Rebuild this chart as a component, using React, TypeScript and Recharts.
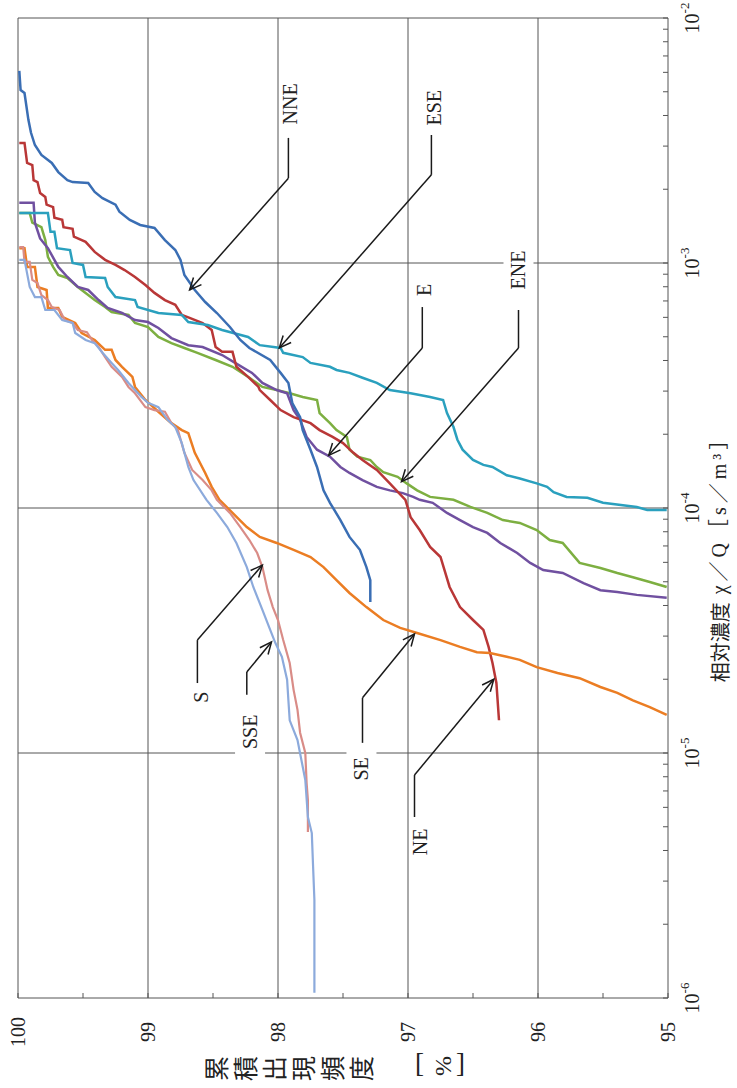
import React from 'react';
import { LineChart, Line, XAxis, YAxis, ReferenceLine, ReferenceDot } from 'recharts';

// ---- axis values ----
const FREQ_TICKS = [100, 99.5, 99, 98.5, 98, 97.5, 97, 96.5, 96, 95.5, 95];
const FREQ_LABELS = [100, 99, 98, 97, 96, 95];
const FREQ_GRID = [99, 98, 97, 96];
const CONC_DECADES = [1e-6, 1e-5, 1e-4, 1e-3, 1e-2];
const CONC_MINOR_MULT = [2, 3, 4, 5, 6, 7, 8, 9];
const CONC_GRID = [1e-5, 1e-4, 1e-3];

// ---- series: [cumulative frequency %, chi/Q s/m3] ----
const NNE_DATA: [number, number][] = [
  [99.99, 6.08e-3], [99.98, 5.08e-3], [99.95, 4.94e-3], [99.92, 3.84e-3], [99.9, 3.4e-3], [99.87, 3.03e-3],
  [99.82, 2.76e-3], [99.74, 2.56e-3], [99.69, 2.35e-3], [99.62, 2.18e-3], [99.58, 2.14e-3], [99.46, 2.12e-3],
  [99.41, 1.95e-3], [99.35, 1.84e-3], [99.25, 1.73e-3], [99.22, 1.62e-3], [99.14, 1.5e-3], [99.06, 1.43e-3],
  [98.95, 1.39e-3], [98.87, 1.24e-3], [98.79, 1.13e-3], [98.75, 1.03e-3], [98.72, 8.93e-4], [98.64, 7.76e-4],
  [98.56, 6.93e-4], [98.47, 6.25e-4], [98.37, 5.48e-4], [98.29, 4.85e-4], [98.22, 4.5e-4], [98.06, 4.02e-4],
  [97.98, 3.56e-4], [97.92, 3.24e-4], [97.89, 2.68e-4], [97.83, 2.35e-4], [97.81, 2.08e-4], [97.75, 1.73e-4],
  [97.7, 1.47e-4], [97.65, 1.18e-4], [97.6, 1.05e-4], [97.52, 8.93e-5], [97.45, 7.62e-5], [97.37, 6.75e-5],
  [97.32, 5.74e-5], [97.29, 5.08e-5], [97.29, 4.13e-5],
];
const ESE_DATA: [number, number][] = [
  [99.99, 1.6e-3], [99.77, 1.6e-3], [99.75, 1.34e-3], [99.72, 1.34e-3], [99.7, 1.15e-3], [99.6, 1.13e-3],
  [99.58, 1.0e-3], [99.5, 9.82e-4], [99.48, 8.77e-4], [99.33, 8.69e-4], [99.31, 7.98e-4], [99.25, 7.26e-4],
  [99.1, 7.06e-4], [99.08, 6.61e-4], [98.92, 6.25e-4], [98.74, 6.14e-4], [98.69, 5.74e-4], [98.54, 5.58e-4],
  [98.43, 5.33e-4], [98.23, 4.99e-4], [98.14, 4.62e-4], [97.98, 4.5e-4], [97.96, 4.3e-4], [97.81, 4.13e-4],
  [97.75, 3.91e-4], [97.6, 3.77e-4], [97.55, 3.66e-4], [97.45, 3.56e-4], [97.35, 3.4e-4], [97.24, 3.24e-4],
  [97.14, 3.03e-4], [96.98, 2.94e-4], [96.83, 2.84e-4], [96.73, 2.76e-4], [96.7, 2.44e-4], [96.65, 2.14e-4],
  [96.62, 1.9e-4], [96.58, 1.73e-4], [96.5, 1.57e-4], [96.42, 1.5e-4], [96.35, 1.47e-4], [96.24, 1.36e-4],
  [96.14, 1.32e-4], [96.01, 1.26e-4], [95.93, 1.22e-4], [95.88, 1.16e-4], [95.78, 1.11e-4], [95.62, 1.1e-4],
  [95.5, 1.05e-4], [95.24, 1.01e-4], [95.16, 9.82e-5], [95.01, 9.82e-5],
];
const E_DATA: [number, number][] = [
  [99.99, 1.76e-3], [99.88, 1.76e-3], [99.87, 1.46e-3], [99.83, 1.26e-3], [99.77, 1.15e-3], [99.69, 9.64e-4],
  [99.62, 8.77e-4], [99.54, 7.98e-4], [99.46, 7.76e-4], [99.38, 7.06e-4], [99.31, 6.55e-4], [99.2, 6.25e-4],
  [99.1, 5.85e-4], [99.0, 5.74e-4], [98.92, 5.43e-4], [98.82, 4.94e-4], [98.69, 4.62e-4], [98.58, 4.54e-4],
  [98.43, 4.21e-4], [98.33, 3.91e-4], [98.2, 3.56e-4], [98.12, 3.24e-4], [98.01, 3.03e-4], [97.93, 2.94e-4],
  [97.88, 2.51e-4], [97.83, 2.29e-4], [97.78, 1.95e-4], [97.7, 1.73e-4], [97.6, 1.62e-4], [97.52, 1.47e-4],
  [97.45, 1.39e-4], [97.35, 1.3e-4], [97.24, 1.22e-4], [97.14, 1.18e-4], [97.04, 1.15e-4], [96.96, 1.11e-4],
  [96.91, 1.08e-4], [96.81, 1.05e-4], [96.7, 9.55e-5], [96.6, 8.93e-5], [96.5, 8.36e-5], [96.39, 7.91e-5],
  [96.29, 7.2e-5], [96.16, 6.55e-5], [96.06, 5.97e-5], [95.96, 5.58e-5], [95.81, 5.43e-5], [95.65, 4.94e-5],
  [95.52, 4.62e-5], [95.39, 4.54e-5], [95.24, 4.42e-5], [95.01, 4.3e-5],
];
const ENE_DATA: [number, number][] = [
  [99.99, 1.6e-3], [99.91, 1.6e-3], [99.89, 1.46e-3], [99.82, 1.4e-3], [99.79, 1.24e-3], [99.77, 1.06e-3],
  [99.73, 9.64e-4], [99.69, 8.93e-4], [99.62, 8.69e-4], [99.54, 7.98e-4], [99.48, 7.55e-4], [99.41, 7.06e-4],
  [99.33, 6.61e-4], [99.28, 6.31e-4], [99.15, 6.14e-4], [99.1, 5.69e-4], [99.0, 5.48e-4], [98.92, 4.99e-4],
  [98.82, 4.71e-4], [98.72, 4.5e-4], [98.62, 4.3e-4], [98.48, 4.02e-4], [98.35, 3.77e-4], [98.22, 3.4e-4],
  [98.12, 3.12e-4], [98.01, 3.03e-4], [97.91, 2.94e-4], [97.81, 2.84e-4], [97.7, 2.76e-4], [97.68, 2.44e-4],
  [97.6, 2.22e-4], [97.55, 2.08e-4], [97.47, 1.95e-4], [97.45, 1.73e-4], [97.39, 1.62e-4], [97.29, 1.57e-4],
  [97.24, 1.47e-4], [97.19, 1.4e-4], [97.08, 1.34e-4], [97.01, 1.26e-4], [96.93, 1.18e-4], [96.83, 1.11e-4],
  [96.65, 1.08e-4], [96.52, 1.01e-4], [96.39, 9.55e-5], [96.27, 8.93e-5], [96.14, 8.69e-5], [96.01, 8.13e-5],
  [95.91, 7.4e-5], [95.81, 7.2e-5], [95.68, 5.97e-5], [95.52, 5.69e-5], [95.39, 5.43e-5], [95.27, 5.22e-5],
  [95.14, 4.99e-5], [95.01, 4.76e-5],
];
const NE_DATA: [number, number][] = [
  [99.99, 3.09e-3], [99.95, 3.09e-3], [99.93, 2.56e-3], [99.89, 2.51e-3], [99.88, 2.18e-3], [99.85, 2.14e-3],
  [99.83, 1.93e-3], [99.79, 1.86e-3], [99.78, 1.73e-3], [99.73, 1.69e-3], [99.72, 1.53e-3], [99.66, 1.5e-3],
  [99.65, 1.4e-3], [99.58, 1.38e-3], [99.57, 1.28e-3], [99.48, 1.22e-3], [99.41, 1.11e-3], [99.33, 1.03e-3],
  [99.25, 9.82e-4], [99.18, 9.36e-4], [99.1, 8.77e-4], [99.02, 8.13e-4], [98.95, 7.55e-4], [98.87, 7.06e-4],
  [98.79, 6.75e-4], [98.74, 6.14e-4], [98.68, 5.97e-4], [98.58, 5.69e-4], [98.51, 5.33e-4], [98.48, 4.54e-4],
  [98.43, 4.34e-4], [98.35, 4.34e-4], [98.32, 3.77e-4], [98.23, 3.43e-4], [98.15, 3.12e-4], [98.14, 3.03e-4],
  [98.06, 2.76e-4], [97.98, 2.51e-4], [97.88, 2.35e-4], [97.75, 2.22e-4], [97.68, 2.08e-4], [97.58, 1.95e-4],
  [97.5, 1.84e-4], [97.42, 1.68e-4], [97.35, 1.57e-4], [97.24, 1.43e-4], [97.14, 1.26e-4], [97.02, 1.08e-4],
  [96.98, 9.18e-5], [96.91, 8.13e-5], [96.83, 6.93e-5], [96.75, 6.31e-5], [96.68, 4.76e-5], [96.6, 3.94e-5],
  [96.5, 3.49e-5], [96.42, 3.18e-5], [96.38, 2.71e-5], [96.35, 2.33e-5], [96.32, 1.93e-5], [96.3, 1.36e-5],
];
const SE_DATA: [number, number][] = [
  [99.99, 1.15e-3], [99.95, 1.15e-3], [99.93, 9.64e-4], [99.87, 9.64e-4], [99.85, 7.98e-4], [99.78, 7.76e-4],
  [99.77, 6.55e-4], [99.69, 6.55e-4], [99.66, 6.03e-4], [99.56, 5.69e-4], [99.51, 5.18e-4], [99.41, 4.85e-4],
  [99.33, 4.42e-4], [99.28, 4.42e-4], [99.25, 4.02e-4], [99.2, 3.77e-4], [99.12, 3.43e-4], [99.1, 3.12e-4],
  [99.02, 2.76e-4], [98.92, 2.47e-4], [98.82, 2.22e-4], [98.74, 2.08e-4], [98.69, 2.02e-4], [98.64, 1.68e-4],
  [98.56, 1.39e-4], [98.51, 1.22e-4], [98.45, 1.08e-4], [98.35, 9.55e-5], [98.24, 8.36e-5], [98.14, 7.62e-5],
  [98.01, 7.2e-5], [97.88, 6.75e-5], [97.75, 6.31e-5], [97.65, 5.74e-5], [97.55, 5.08e-5], [97.45, 4.5e-5],
  [97.32, 3.94e-5], [97.19, 3.49e-5], [97.06, 3.24e-5], [96.93, 3.09e-5], [96.75, 2.89e-5], [96.6, 2.71e-5],
  [96.47, 2.58e-5], [96.37, 2.56e-5], [96.24, 2.47e-5], [96.14, 2.4e-5], [96.01, 2.24e-5], [95.85, 2.12e-5],
  [95.68, 2.02e-5], [95.52, 1.86e-5], [95.39, 1.76e-5], [95.27, 1.64e-5], [95.14, 1.54e-5], [95.01, 1.43e-5],
];
const S_DATA: [number, number][] = [
  [99.99, 1.16e-3], [99.96, 1.16e-3], [99.95, 1.01e-3], [99.91, 1.01e-3], [99.89, 8.53e-4], [99.85, 8.28e-4],
  [99.82, 7.4e-4], [99.77, 7.06e-4], [99.74, 6.61e-4], [99.68, 6.43e-4], [99.64, 5.85e-4], [99.58, 5.69e-4],
  [99.54, 5.33e-4], [99.47, 5.22e-4], [99.43, 4.85e-4], [99.38, 4.54e-4], [99.33, 4.13e-4], [99.28, 3.77e-4],
  [99.2, 3.43e-4], [99.15, 3.12e-4], [99.1, 2.94e-4], [99.02, 2.58e-4], [98.95, 2.51e-4], [98.87, 2.47e-4],
  [98.82, 2.22e-4], [98.77, 2.08e-4], [98.72, 1.68e-4], [98.66, 1.43e-4], [98.58, 1.3e-4], [98.51, 1.18e-4],
  [98.47, 1.08e-4], [98.37, 9.55e-5], [98.29, 8.36e-5], [98.22, 7.4e-5], [98.16, 6.55e-5], [98.12, 5.74e-5],
  [98.08, 4.62e-5], [98.04, 3.94e-5], [98.0, 3.49e-5], [97.96, 2.89e-5], [97.91, 2.33e-5], [97.88, 1.81e-5],
  [97.85, 1.5e-5], [97.83, 1.21e-5], [97.79, 1.0e-5], [97.78, 7.55e-6], [97.77, 6.43e-6], [97.77, 4.76e-6],
];
const SSE_DATA: [number, number][] = [
  [99.99, 1.03e-3], [99.95, 1.03e-3], [99.91, 7.98e-4], [99.87, 7.26e-4], [99.82, 7.26e-4], [99.79, 6.43e-4],
  [99.72, 6.43e-4], [99.66, 5.85e-4], [99.58, 5.69e-4], [99.56, 5.18e-4], [99.48, 4.85e-4], [99.41, 4.71e-4],
  [99.35, 4.3e-4], [99.28, 3.91e-4], [99.23, 3.66e-4], [99.15, 3.24e-4], [99.05, 2.84e-4], [99.0, 2.69e-4],
  [98.92, 2.58e-4], [98.85, 2.29e-4], [98.79, 2.14e-4], [98.74, 1.84e-4], [98.69, 1.47e-4], [98.65, 1.3e-4],
  [98.55, 1.08e-4], [98.47, 9.55e-5], [98.39, 8.36e-5], [98.32, 7.2e-5], [98.24, 5.74e-5], [98.19, 4.76e-5],
  [98.12, 3.84e-5], [98.06, 3.18e-5], [98.02, 2.81e-5], [97.97, 2.47e-5], [97.93, 1.99e-5], [97.92, 1.64e-5],
  [97.91, 1.36e-5], [97.85, 1.13e-5], [97.82, 9.36e-6], [97.79, 7.76e-6], [97.77, 5.48e-6], [97.74, 4.71e-6],
  [97.73, 3.43e-6], [97.72, 2.51e-6], [97.72, 1.05e-6],
];

const SERIES = [
  { name: 'ENE', color: '#7DAF41', width: 2.5, data: ENE_DATA },
  { name: 'E', color: '#7050A0', width: 2.5, data: E_DATA },
  { name: 'NE', color: '#B93737', width: 2.5, data: NE_DATA },
  { name: 'ESE', color: '#2AA0BE', width: 2.5, data: ESE_DATA },
  { name: 'NNE', color: '#3A6EB4', width: 2.5, data: NNE_DATA },
  { name: 'SE', color: '#EB7D23', width: 2.5, data: SE_DATA },
  { name: 'S', color: '#D98C87', width: 2.2, data: S_DATA },
  { name: 'SSE', color: '#8CAADC', width: 2.2, data: SSE_DATA },
];

// ---- annotation callouts (data coordinates) ----
const ANNOTATIONS = [
  { name: 'NNE', labelF: 97.91, labelC: 4.46e-3, legF: 97.92, legStartC: 3.24e-3, bendC: 2.22e-3, tipF: 98.68, tipC: 7.76e-4, bg: false },
  { name: 'ESE', labelF: 96.8, labelC: 4.3e-3, legF: 96.82, legStartC: 3.33e-3, bendC: 2.29e-3, tipF: 97.99, tipC: 4.5e-4, bg: false },
  { name: 'E', labelF: 96.88, labelC: 7.76e-4, legF: 96.89, legStartC: 6.61e-4, bendC: 4.5e-4, tipF: 97.61, tipC: 1.64e-4, bg: false },
  { name: 'ENE', labelF: 96.15, labelC: 9.36e-4, legF: 96.15, legStartC: 6.43e-4, bendC: 4.5e-4, tipF: 97.05, tipC: 1.28e-4, bg: true },
  { name: 'S', labelF: 98.59, labelC: 1.69e-5, legF: 98.62, legStartC: 1.93e-5, bendC: 2.89e-5, tipF: 98.12, tipC: 5.85e-5, bg: false },
  { name: 'SSE', labelF: 98.215, labelC: 1.22e-5, legF: 98.24, legStartC: 1.73e-5, bendC: 2.14e-5, tipF: 98.05, tipC: 2.84e-5, bg: true },
  { name: 'SE', labelF: 97.358, labelC: 8.61e-6, legF: 97.35, legStartC: 1.1e-5, bendC: 1.68e-5, tipF: 96.95, tipC: 3.06e-5, bg: true },
  { name: 'NE', labelF: 96.91, labelC: 4.34e-6, legF: 96.95, legStartC: 5.48e-6, bendC: 8.13e-6, tipF: 96.34, tipC: 2.0e-5, bg: false },
];

const FONT = "'Liberation Serif', 'Noto Sans CJK JP', serif";
const CJK = "'Noto Sans CJK JP', sans-serif";
const GRID = '#555555';
const INK = '#1a1a1a';

const CONC_TICKS = CONC_DECADES.flatMap((d, i) =>
  i < CONC_DECADES.length - 1 ? [d, ...CONC_MINOR_MULT.map((m) => m * d)] : [d]
);

const toPoints = (arr: [number, number][]) => arr.map(([f, c]) => ({ f, c }));

function FreqTick(props: any) {
  const { x, y, payload } = props;
  const v = payload.value;
  if (!FREQ_LABELS.includes(v)) return <g />;
  const cy = y + 39;
  return (
    <text x={x} y={cy} transform={`rotate(-90 ${x} ${cy})`} textAnchor="middle" dominantBaseline="central"
      fontFamily={FONT} fontSize={20} fill="#222">{v}</text>
  );
}

function ConcTick(props: any) {
  const { x, y, payload } = props;
  const v = payload.value;
  const idx = CONC_DECADES.findIndex((d) => Math.abs(d - v) / d < 1e-6);
  if (idx < 0) return <g />;
  const exp = Math.round(Math.log10(v));
  const cx = x + 29;
  return (
    <text x={cx} y={y} transform={`rotate(-90 ${cx} ${y})`} textAnchor="middle" dominantBaseline="central"
      fontFamily={FONT} fontSize={20} fill="#222">
      10<tspan dy={-8} fontSize={13}>{'-' + Math.abs(exp)}</tspan>
    </text>
  );
}

function XTitle(props: any) {
  const vb = props.viewBox || { x: 18, y: 998 };
  const ox = vb.x;
  const oy = vb.y;
  return (
    <g>
      <text x={ox + 208} y={oy + 83} rotate="-90" letterSpacing={4} fontFamily={CJK} fontSize={25} fill="#222">
        累積出現頻度
      </text>
      <text x={ox + 397} y={oy + 74} fontFamily={FONT} fontSize={27} fill="#222">[</text>
      <text x={ox + 424.5} y={oy + 68} transform={`rotate(-90 ${ox + 424.5} ${oy + 68})`} textAnchor="middle"
        dominantBaseline="central" fontFamily={FONT} fontSize={24} fill="#222">%</text>
      <text x={ox + 438} y={oy + 74} fontFamily={FONT} fontSize={27} fill="#222">]</text>
    </g>
  );
}

function YTitle(props: any) {
  const vb = props.viewBox || { x: 668, y: 18, height: 980 };
  const cx = vb.x + 51;
  const cy = 554;
  return (
    <text x={cx} y={cy} transform={`rotate(-90 ${cx} ${cy})`} textAnchor="middle" dominantBaseline="central"
      fontFamily={FONT} fontSize={20} fill="#222">
      <tspan fontFamily={CJK}>相対濃度</tspan>
      <tspan dx={8} letterSpacing={4}>χ／Q［s／m³］</tspan>
    </text>
  );
}

function ArrowShape(p: any) {
  const x1 = Number(p.x1), y1 = Number(p.y1), x2 = Number(p.x2), y2 = Number(p.y2);
  const ang = Math.atan2(y2 - y1, x2 - x1);
  const L = 13;
  const spread = 0.42;
  const ax = x2 - L * Math.cos(ang - spread);
  const ay = y2 - L * Math.sin(ang - spread);
  const bx = x2 - L * Math.cos(ang + spread);
  const by = y2 - L * Math.sin(ang + spread);
  return (
    <g>
      <line x1={x1} y1={y1} x2={x2} y2={y2} stroke={INK} strokeWidth={1.5} />
      <polyline points={`${ax},${ay} ${x2},${y2} ${bx},${by}`} fill="none" stroke={INK} strokeWidth={1.5} />
    </g>
  );
}

function CalloutLabel(p: any) {
  const { cx, cy, text, bg } = p;
  const len = text.length * 14 + 6;
  return (
    <g>
      {bg && <rect x={cx - 15} y={cy - len / 2} width={30} height={len} fill="#ffffff" />}
      <text x={cx} y={cy} transform={`rotate(-90 ${cx} ${cy})`} textAnchor="middle" dominantBaseline="central"
        fontFamily={FONT} fontSize={20} fill="#222">{text}</text>
    </g>
  );
}

export default function App() {
  return (
    <div style={{ position: 'absolute', left: 0, top: 0, width: 737, height: 1088, background: '#fff' }}>
      <LineChart width={737} height={1088} margin={{ top: 18, right: 0, bottom: 0, left: 18 }}>
        <XAxis
          type="number"
          dataKey="f"
          domain={[95, 100]}
          reversed
          allowDataOverflow
          ticks={FREQ_TICKS}
          interval={0}
          tick={<FreqTick />}
          tickSize={-5}
          tickMargin={0}
          tickLine={{ stroke: GRID }}
          axisLine={{ stroke: GRID }}
          height={90}
          label={<XTitle />}
        />
        <YAxis
          type="number"
          orientation="right"
          scale="log"
          domain={[1e-6, 1e-2]}
          allowDataOverflow
          ticks={CONC_TICKS}
          interval={0}
          tick={<ConcTick />}
          tickSize={-5}
          tickMargin={0}
          tickLine={{ stroke: GRID }}
          axisLine={{ stroke: GRID }}
          width={69}
          label={<YTitle />}
        />
        {FREQ_GRID.map((f) => (
          <ReferenceLine key={'gx' + f} x={f} stroke={GRID} strokeWidth={1} zIndex={-10} />
        ))}
        {CONC_GRID.map((c) => (
          <ReferenceLine key={'gy' + c} y={c} stroke={GRID} strokeWidth={1} zIndex={-10} />
        ))}
        <ReferenceLine x={100} stroke={GRID} strokeWidth={1} zIndex={-10} />
        <ReferenceLine y={1e-2} stroke={GRID} strokeWidth={1} zIndex={-10} />
        {SERIES.map((s) => (
          <Line
            key={s.name}
            name={s.name}
            data={toPoints(s.data)}
            dataKey="c"
            type="linear"
            stroke={s.color}
            strokeWidth={s.width}
            dot={false}
            activeDot={false}
            isAnimationActive={false}
          />
        ))}
        {ANNOTATIONS.map((a) => (
          <ReferenceLine
            key={'leg' + a.name}
            segment={[{ x: a.legF, y: a.legStartC }, { x: a.legF, y: a.bendC }]}
            stroke={INK}
            strokeWidth={1.5}
            zIndex={1500}
          />
        ))}
        {ANNOTATIONS.map((a) => (
          <ReferenceLine
            key={'arr' + a.name}
            segment={[{ x: a.legF, y: a.bendC }, { x: a.tipF, y: a.tipC }]}
            shape={(p: any) => <ArrowShape {...p} />}
            zIndex={1500}
          />
        ))}
        {ANNOTATIONS.map((a) => (
          <ReferenceDot
            key={'lbl' + a.name}
            x={a.labelF}
            y={a.labelC}
            r={1}
            zIndex={1600}
            shape={(p: any) => <CalloutLabel cx={p.cx} cy={p.cy} text={a.name} bg={a.bg} />}
          />
        ))}
      </LineChart>
    </div>
  );
}
